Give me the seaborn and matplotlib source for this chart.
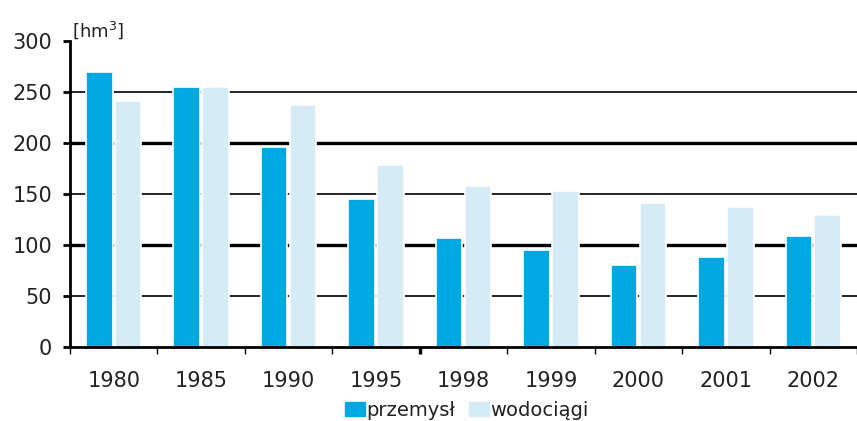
import pandas as pd
import matplotlib
matplotlib.use('Agg')
import matplotlib.pyplot as plt
import seaborn as sns

# data (hm3)
lata = ['1980', '1985', '1990', '1995', '1998', '1999', '2000', '2001', '2002']
przemysl = [270, 255, 196, 145, 107, 95, 80, 88, 109]
wodociagi = [241, 255, 237, 178, 158, 153, 141, 137, 129]
serie = ['przemysł', 'wodociągi']
kolory = ['#00a8e2', '#d5ebf6']

df = pd.DataFrame({
    'rok': lata * 2,
    'wartosc': przemysl + wodociagi,
    'seria': [serie[0]] * len(lata) + [serie[1]] * len(lata),
})

sns.set_style('white')
plt.rcParams['font.family'] = ['DejaVu Sans']

fig = plt.figure(figsize=(8.57, 4.21), dpi=100)
ax = fig.add_axes([70 / 857, 74 / 421, 787 / 857, 306 / 421])

sns.barplot(data=df, x='rok', y='wartosc', hue='seria', palette=kolory,
            width=0.66, gap=0.08, saturation=1, ax=ax, legend=False,
            edgecolor='white', linewidth=1.2)

ax.set_xlim(-0.5, 8.44)
ax.set_ylim(0, 300)
ax.set_yticks(range(0, 301, 50))
ax.set_xlabel('')
ax.set_ylabel('')

# gridlines: thick at 100/200, thin elsewhere, none at 0 and 300
ax.set_axisbelow(True)
ax.grid(axis='y', color='black', linewidth=1.2)
ax.grid(axis='x', visible=False)
for line, val in zip(ax.get_ygridlines(), ax.get_yticks()):
    if val in (100, 200):
        line.set_linewidth(2.4)
    elif val in (0, 300):
        line.set_visible(False)

for s in ['top', 'right']:
    ax.spines[s].set_visible(False)
for s in ['left', 'bottom']:
    ax.spines[s].set_linewidth(2.0)
    ax.spines[s].set_color('black')

ax.tick_params(axis='y', direction='out', length=5, width=2, color='black',
               labelsize=15, labelcolor='#222222', pad=8, left=True)
ax.set_xticks([i - 0.5 for i in range(len(lata) + 1)], minor=True)
ax.tick_params(axis='x', which='major', length=0, labelsize=15,
               labelcolor='#222222', pad=17)
ax.tick_params(axis='x', which='minor', direction='out', length=5, width=1,
               color='black', bottom=True)
ax.xaxis.get_minor_ticks()[4].tick1line.set_markeredgewidth(2.5)

fig.text(72 / 857, (421 - 37) / 421, '[hm$^3$]', fontsize=13,
         color='#222222', ha='left', va='baseline')

uchwyty = [plt.Rectangle((0, 0), 1, 1, color=k) for k in kolory]
fig.legend(uchwyty, serie, loc='center', ncol=2, frameon=False,
           bbox_to_anchor=(467 / 857, 11 / 421), fontsize=14,
           handlelength=1.0, handleheight=0.75, handletextpad=0.1,
           columnspacing=0.7, labelcolor='#222222')

fig.savefig('out.png', dpi=100)
